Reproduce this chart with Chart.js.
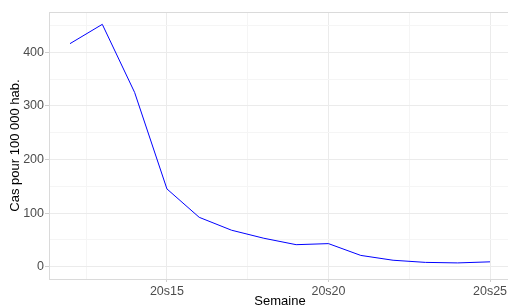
<!DOCTYPE html>
<html>
<head>
<meta charset="utf-8">
<script src="https://cdn.jsdelivr.net/npm/chart.js@4"></script>
<style>
  html, body { margin: 0; background: #fff; overflow: hidden; }
  #wrap { width: 508px; height: 305px; overflow: hidden; }
</style>
</head>
<body>
<div id="wrap"><canvas id="chart" width="511" height="305"></canvas></div>
<script>
const weeks = [12, 13, 14, 15, 16, 17, 18, 19, 20, 21, 22, 23, 24, 25];
const cases = [416, 452, 325, 145, 92, 68, 53, 41, 43, 21, 12, 8, 7, 9];
const xTicks = [12.5, 15, 17.5, 20, 22.5, 25];
const yTicks = [0, 50, 100, 150, 200, 250, 300, 350, 400, 450];

const isMajorX = v => Number.isInteger(v);
const isMajorY = v => v % 100 === 0;

// ggplot-like panel border along the top
const panelTop = {
    id: 'panelTop',
    afterDraw(chart) {
        const a = chart.chartArea;
        const ctx = chart.ctx;
        ctx.save();
        ctx.strokeStyle = '#dadada';
        ctx.lineWidth = 1;
        ctx.beginPath();
        ctx.moveTo(a.left, a.top + 0.5);
        ctx.lineTo(a.right, a.top + 0.5);
        ctx.stroke();
        ctx.restore();
    }
};

const graf = document.getElementById("chart").getContext('2d');
const chart = new Chart(graf, {
    type: 'line',
    data: {
        datasets: [{
            data: weeks.map((w, i) => ({x: w, y: cases[i]})),
            borderColor: '#0000ff',
            borderWidth: 1,
            pointRadius: 0,
            tension: 0,
            fill: false
        }]
    },
    options: {
        responsive: false,
        animation: false,
        devicePixelRatio: 1,
        layout: { padding: { top: 12, left: 0, right: 0, bottom: 0 } },
        plugins: { legend: { display: false }, tooltip: { enabled: false } },
        scales: {
            x: {
                type: 'linear',
                min: 11.35,
                max: 25.65,
                afterBuildTicks: s => { s.ticks = xTicks.map(v => ({value: v})); },
                afterFit: s => { s.height = 26; },
                ticks: {
                    autoSkip: false,
                    maxRotation: 0,
                    padding: 2,
                    color: '#4d4d4d',
                    font: { family: 'Liberation Sans', size: 12.5 },
                    callback: v => isMajorX(v) ? '20s' + v : ''
                },
                grid: {
                    color: c => isMajorX(c.tick.value) ? '#ebebeb' : '#f5f5f5',
                    tickColor: c => isMajorX(c.tick.value) ? '#cfcfcf' : 'rgba(0,0,0,0)',
                    tickLength: 3
                },
                border: { color: '#dadada', width: 1 },
                title: {
                    display: true,
                    text: 'Semaine',
                    color: '#000',
                    font: { family: 'Liberation Sans', size: 13 },
                    padding: { top: 0, bottom: -4 }
                }
            },
            y: {
                min: -23,
                max: 475,
                afterBuildTicks: s => { s.ticks = yTicks.map(v => ({value: v})); },
                afterFit: s => { s.width = 49; },
                ticks: {
                    autoSkip: false,
                    padding: 1,
                    color: '#4d4d4d',
                    font: { family: 'Liberation Sans', size: 12.5 },
                    callback: v => isMajorY(v) ? v : ''
                },
                grid: {
                    color: c => isMajorY(c.tick.value) ? '#ebebeb' : '#f5f5f5',
                    tickColor: c => isMajorY(c.tick.value) ? '#cfcfcf' : 'rgba(0,0,0,0)',
                    tickLength: 4
                },
                border: { color: '#dadada', width: 1 },
                title: {
                    display: true,
                    text: 'Cas pour 100 000 hab.',
                    color: '#000',
                    font: { family: 'Liberation Sans', size: 13 },
                    padding: { top: 8, bottom: 0 }
                }
            }
        }
    },
    plugins: [panelTop]
});
</script>
</body>
</html>
